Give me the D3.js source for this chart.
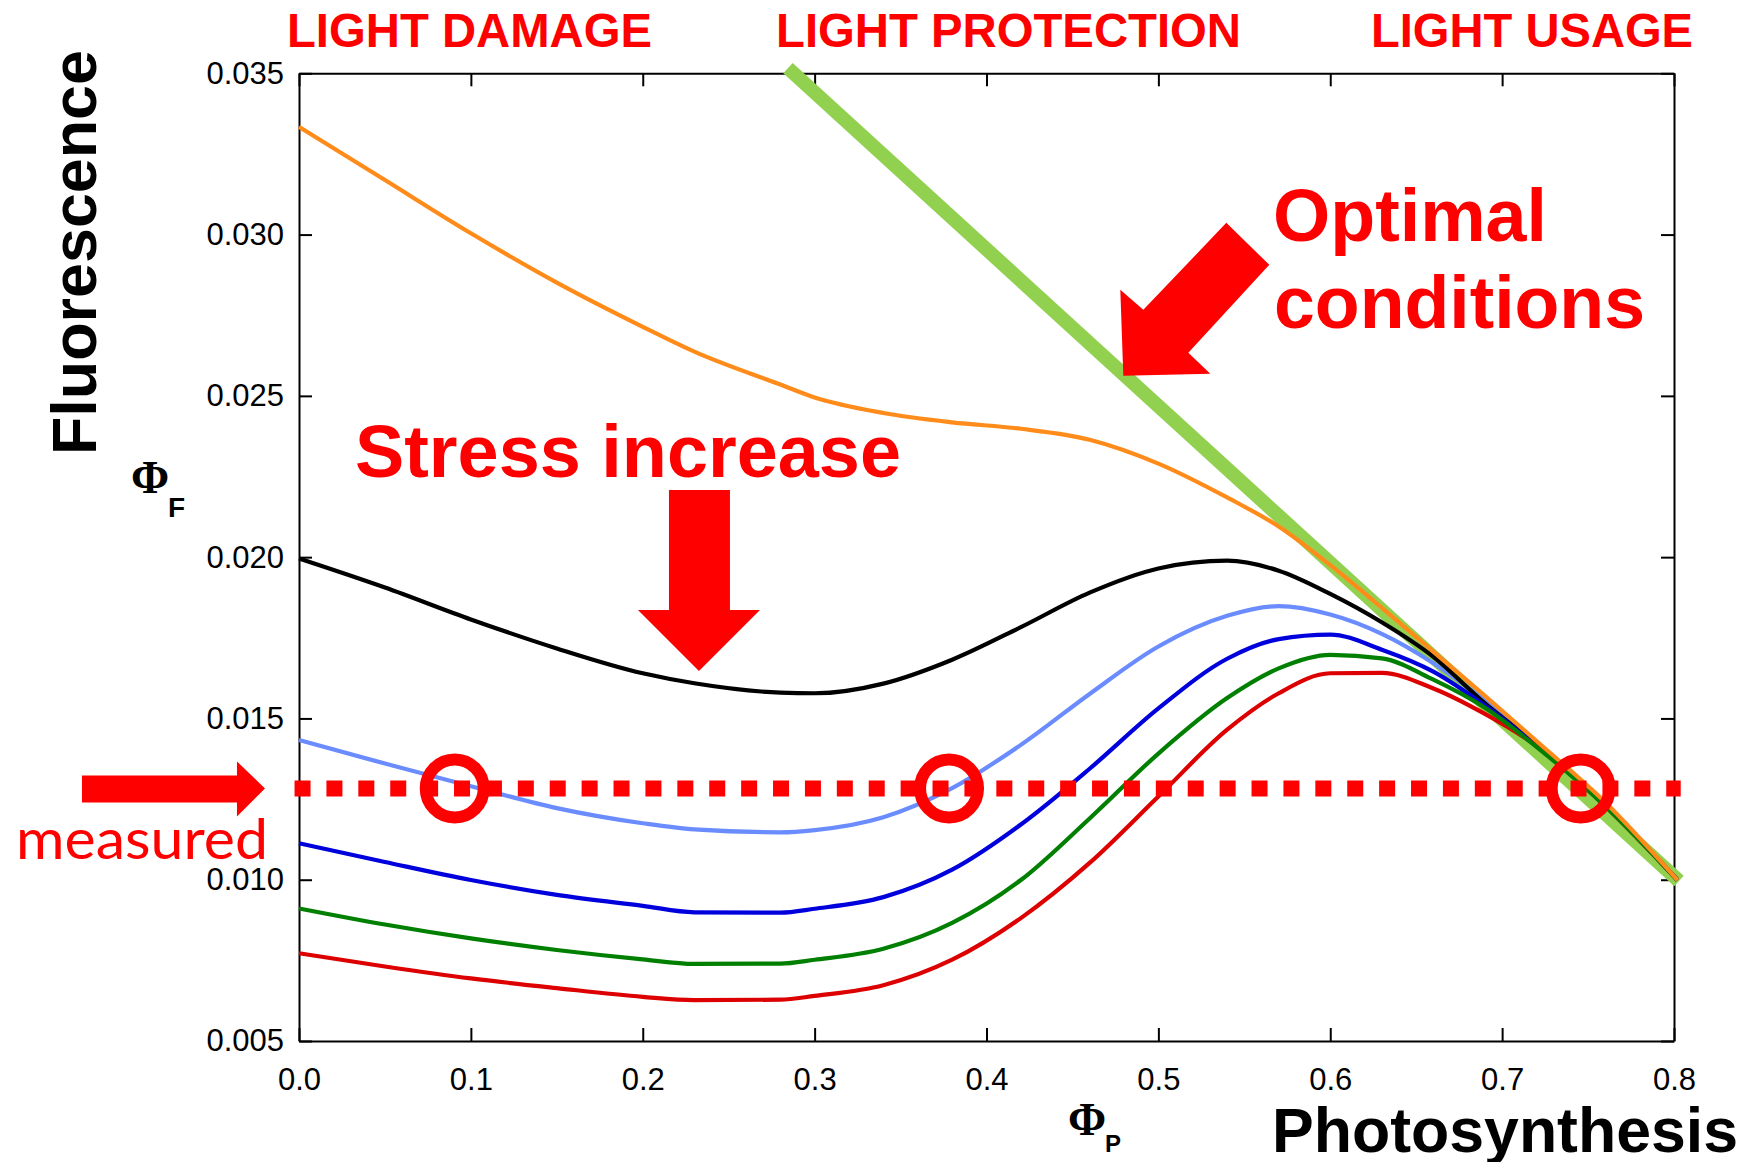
<!DOCTYPE html>
<html>
<head>
<meta charset="utf-8">
<script src="https://cdn.jsdelivr.net/npm/d3@7"></script>
<style>
  html, body { margin: 0; padding: 0; background: #fff; }
  svg { display: block; }
</style>
</head>
<body>
<svg id="chart" width="1745" height="1162"></svg>
<script>
// ---------- data ----------
const xs            = [0, 0.05, 0.10, 0.15, 0.20, 0.23, 0.28, 0.30, 0.34, 0.38, 0.42, 0.46, 0.50, 0.54, 0.57, 0.60, 0.63, 0.66, 0.69, 0.72, 0.76, 0.802];
const orangeVals    = [0.03334, 0.03169, 0.03004, 0.02851, 0.02714, 0.02637, 0.02535, 0.02495, 0.02447, 0.02418, 0.02398, 0.02364, 0.02290, 0.02185, 0.02095, 0.01975, 0.01843, 0.01707, 0.01570, 0.01430, 0.01240, 0.00999];
const blackVals     = [0.01996, 0.01906, 0.01807, 0.01717, 0.01640, 0.01609, 0.01580, 0.01578, 0.01608, 0.01682, 0.01783, 0.01890, 0.01965, 0.01989, 0.01958, 0.01886, 0.01798, 0.01691, 0.01547, 0.01420, 0.01232, 0.00999];
const lightBlueVals = [0.01433, 0.01360, 0.01290, 0.01222, 0.01175, 0.01156, 0.01147, 0.01154, 0.01194, 0.01284, 0.01418, 0.01576, 0.01723, 0.01818, 0.01848, 0.01822, 0.01762, 0.01671, 0.01555, 0.01417, 0.01230, 0.00999];
const blueVals      = [0.01113, 0.01055, 0.00999, 0.00953, 0.00919, 0.00899, 0.00898, 0.00910, 0.00946, 0.01031, 0.01171, 0.01344, 0.01531, 0.01685, 0.01746, 0.01760, 0.01713, 0.01645, 0.01540, 0.01415, 0.01230, 0.00999];
const greenVals     = [0.00911, 0.00861, 0.00818, 0.00782, 0.00753, 0.00739, 0.00740, 0.00752, 0.00786, 0.00866, 0.00999, 0.01190, 0.01391, 0.01563, 0.01655, 0.01697, 0.01686, 0.01620, 0.01533, 0.01412, 0.01228, 0.00999];
const redVals       = [0.00772, 0.00731, 0.00694, 0.00664, 0.00637, 0.00627, 0.00628, 0.00640, 0.00673, 0.00752, 0.00881, 0.01052, 0.01258, 0.01465, 0.01578, 0.01640, 0.01641, 0.01593, 0.01514, 0.01415, 0.01228, 0.00999];

const optimalX = [0.2845, 0.8029];          // "optimal conditions" straight line
const optimalY = [0.03516, 0.00996];
const measuredLevel = 0.01283;              // measured fluorescence level
const measuredRange = [-0.0026, 0.8039];
const circleX = [0.0906, 0.3782, 0.7457];   // intersections marked with rings

const xTicks = [0, 0.1, 0.2, 0.3, 0.4, 0.5, 0.6, 0.7, 0.8];
const yTicks = [0.005, 0.010, 0.015, 0.020, 0.025, 0.030, 0.035];

const regionLabels = ["LIGHT DAMAGE", "LIGHT PROTECTION", "LIGHT USAGE"];

// ---------- drawing ----------
const svg = d3.select("#chart");
svg.append("rect").attr("width", 1745).attr("height", 1162).attr("fill", "#fff");

const x = d3.scaleLinear().domain([0, 0.8]).range([299, 1674]);
const y = d3.scaleLinear().domain([0.005, 0.035]).range([1041, 73.3]);

const RED = "#ff0000";
const sans = "'Liberation Sans', Arial, Helvetica, sans-serif";

// axes (frame with inward ticks)
function styleAxis(g) {
  g.selectAll("path.domain").attr("stroke", "#000").attr("stroke-width", 2);
  g.selectAll(".tick line").attr("stroke", "#000").attr("stroke-width", 2);
  g.selectAll(".tick text").attr("font-family", sans).attr("font-size", 31).attr("fill", "#000");
}
svg.append("g").attr("transform", `translate(0,${y(0.005)})`)
  .call(d3.axisBottom(x).tickValues(xTicks).tickSizeInner(-13).tickSizeOuter(0).tickPadding(27).tickFormat(d3.format(".1f")))
  .call(styleAxis);
svg.append("g").attr("transform", `translate(0,${y(0.035)})`)
  .call(d3.axisTop(x).tickValues(xTicks).tickSizeInner(-13).tickSizeOuter(0).tickFormat(""))
  .call(styleAxis);
svg.append("g").attr("transform", `translate(${x(0)},0)`)
  .call(d3.axisLeft(y).tickValues(yTicks).tickSizeInner(-13).tickSizeOuter(0).tickPadding(15).tickFormat(d3.format(".3f")))
  .call(styleAxis);
svg.append("g").attr("transform", `translate(${x(0.8)},0)`)
  .call(d3.axisRight(y).tickValues(yTicks).tickSizeInner(-13).tickSizeOuter(0).tickFormat(""))
  .call(styleAxis);

// optimal line
svg.append("line")
  .attr("x1", x(optimalX[0])).attr("y1", y(optimalY[0]))
  .attr("x2", x(optimalX[1])).attr("y2", y(optimalY[1]))
  .attr("stroke", "#92d050").attr("stroke-width", 14).attr("stroke-linecap", "butt");

// curves
const line = d3.line().x(d => x(d[0])).y(d => y(d[1])).curve(d3.curveMonotoneX);
const series = [
  { vals: lightBlueVals, color: "#6a8cff" },
  { vals: blackVals,     color: "#000000" },
  { vals: blueVals,      color: "#0000dd" },
  { vals: redVals,       color: "#dd0000" },
  { vals: greenVals,     color: "#007f00" },
  { vals: orangeVals,    color: "#ff8c1a" }
];
series.forEach(s => {
  svg.append("path")
    .datum(xs.map((v, i) => [v, s.vals[i]]))
    .attr("d", line)
    .attr("fill", "none")
    .attr("stroke", s.color)
    .attr("stroke-width", 4.2)
    .attr("stroke-linejoin", "round");
});

// measured dotted line
svg.append("line")
  .attr("x1", x(measuredRange[0])).attr("x2", x(measuredRange[1]))
  .attr("y1", y(measuredLevel)).attr("y2", y(measuredLevel))
  .attr("stroke", RED).attr("stroke-width", 16).attr("stroke-dasharray", "16 15.9");

// rings
svg.selectAll("circle.ring").data(circleX).enter().append("circle")
  .attr("class", "ring")
  .attr("cx", d => x(d)).attr("cy", y(measuredLevel))
  .attr("r", 29).attr("fill", "none").attr("stroke", RED).attr("stroke-width", 12);

// arrows (shapes relative to tip, tips anchored in data space)
function arrow(tipX, tipY, pts) {
  const tx = x(tipX), ty = y(tipY);
  svg.append("polygon")
    .attr("points", pts.map(p => `${tx + p[0]},${ty + p[1]}`).join(" "))
    .attr("fill", RED);
}
arrow(-0.0198, measuredLevel, [[-183,-13],[-28,-13],[-28,-27],[0,0],[-28,28],[-28,14],[-183,14]]);
arrow(0.2327, 0.01647, [[-30,-181],[31,-181],[31,-61],[61,-61],[0,0],[-61,-61],[-30,-61]]);
arrow(0.4796, 0.02562, [[103,-153],[146,-111],[65,-23],[87,-2],[0,0],[-3,-86],[20,-66]]);

// texts
const regionPos = [[287, 365], [776, 465], [1371, 322]];
regionLabels.forEach((t, i) => {
  svg.append("text").attr("x", regionPos[i][0]).attr("y", 47)
    .attr("font-family", sans).attr("font-weight", "bold").attr("font-size", 48)
    .attr("fill", RED).attr("textLength", regionPos[i][1]).attr("lengthAdjust", "spacingAndGlyphs")
    .text(t);
});

function bigText(txt, tx, ty, size, len) {
  svg.append("text").attr("x", tx).attr("y", ty)
    .attr("font-family", sans).attr("font-weight", "bold").attr("font-size", size)
    .attr("fill", RED).attr("textLength", len).attr("lengthAdjust", "spacingAndGlyphs")
    .text(txt);
}
bigText("Optimal", 1273, 241, 75, 274);
bigText("conditions", 1274, 328, 74, 371);
bigText("Stress increase", 355, 477, 74, 546);

svg.append("text").attr("x", 16).attr("y", 859)
  .attr("font-family", "Lato, 'Open Sans', sans-serif").attr("font-size", 57)
  .attr("fill", RED).attr("textLength", 252).attr("lengthAdjust", "spacingAndGlyphs")
  .text("measured");

// axis titles
svg.append("text")
  .attr("transform", "translate(96,252.5) rotate(-90)")
  .attr("text-anchor", "middle")
  .attr("font-family", sans).attr("font-weight", "bold").attr("font-size", 63)
  .attr("fill", "#000").attr("textLength", 405).attr("lengthAdjust", "spacingAndGlyphs")
  .text("Fluorescence");
svg.append("text").attr("x", 1272).attr("y", 1152)
  .attr("font-family", sans).attr("font-weight", "bold").attr("font-size", 63)
  .attr("fill", "#000").attr("textLength", 466).attr("lengthAdjust", "spacingAndGlyphs")
  .text("Photosynthesis");

// Φ symbols
const serif = "'Liberation Serif', 'Times New Roman', serif";
svg.append("text").attr("x", 131).attr("y", 493)
  .attr("font-family", serif).attr("font-weight", "bold").attr("font-size", 46).attr("fill", "#000").text("Φ");
svg.append("text").attr("x", 168).attr("y", 517)
  .attr("font-family", sans).attr("font-weight", "bold").attr("font-size", 28).attr("fill", "#000").text("F");
svg.append("text").attr("x", 1068).attr("y", 1135)
  .attr("font-family", serif).attr("font-weight", "bold").attr("font-size", 46).attr("fill", "#000").text("Φ");
svg.append("text").attr("x", 1105).attr("y", 1152)
  .attr("font-family", sans).attr("font-weight", "bold").attr("font-size", 24).attr("fill", "#000").text("P");
</script>
</body>
</html>
